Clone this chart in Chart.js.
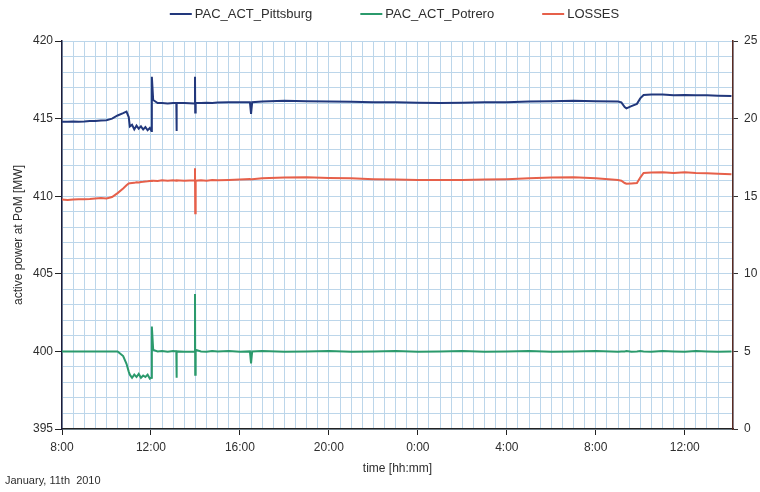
<!DOCTYPE html>
<html>
<head>
<meta charset="utf-8">
<script src="https://cdn.jsdelivr.net/npm/chart.js@4.4.1/dist/chart.umd.min.js"></script>
<style>
  html, body { margin: 0; padding: 0; background: #fff; }
</style>
</head>
<body>
<canvas id="powerChart" width="760" height="492"></canvas>
<script>
// hours since 0:00 on January 11th (values above 24 are the next day)
const times = [
  8.0, 8.25, 8.5, 8.75, 9.0, 9.25, 9.5, 9.75, 10.0, 10.25, 10.5, 10.75, 10.9,
  11.0, 11.05, 11.15, 11.25, 11.35, 11.45, 11.55, 11.65, 11.75, 11.85, 11.95,
  12.02, 12.04, 12.1, 12.3, 12.5, 12.75, 13.0, 13.14, 13.15, 13.16, 13.5,
  13.96, 13.98, 13.99, 14.01, 14.25, 14.5, 14.75, 15.0, 15.5, 16.0, 16.45,
  16.5, 16.55, 17, 18, 19, 20, 21, 22, 23, 24, 25, 26, 27, 28, 29, 30, 31,
  32, 33, 33.15, 33.3, 33.38, 33.6, 33.85, 34.0, 34.15, 34.5, 35.0, 35.5,
  36.0, 36.5, 37.0, 37.5, 38.1
];

// left axis [MW]
const pittsburg = [
  414.80, 414.80, 414.82, 414.80, 414.82, 414.85, 414.85, 414.88, 414.90, 415.00, 415.20, 415.35, 415.45,
  415.10, 414.50, 414.60, 414.30, 414.55, 414.35, 414.50, 414.30, 414.45, 414.25, 414.40,
  414.20, 417.70, 416.20, 416.00, 416.00, 415.98, 416.00, 416.00, 414.20, 416.00, 416.00,
  415.98, 417.70, 415.40, 416.00, 416.00, 416.02, 416.00, 416.03, 416.05, 416.05, 416.05,
  415.30, 416.05, 416.10, 416.15, 416.12, 416.10, 416.08, 416.05, 416.05, 416.02, 416.00, 416.02, 416.05, 416.05, 416.10, 416.12, 416.15,
  416.12, 416.10, 416.05, 415.75, 415.66, 415.80, 415.95, 416.30, 416.52, 416.55, 416.55, 416.50,
  416.52, 416.50, 416.50, 416.48, 416.45
];

// left axis [MW]
const potrero = [
  400.00, 400.00, 400.00, 400.00, 400.00, 400.00, 400.00, 400.00, 400.00, 400.00, 400.00, 399.70, 399.20,
  398.70, 398.50, 398.30, 398.50, 398.35, 398.55, 398.30, 398.45, 398.35, 398.50, 398.25,
  398.30, 401.60, 400.10, 400.00, 400.02, 399.98, 400.02, 400.00, 398.30, 400.00, 399.98,
  400.00, 403.70, 398.50, 400.10, 400.00, 399.98, 400.02, 400.00, 400.02, 399.98, 400.00,
  399.23, 400.00, 400.02, 399.98, 400.00, 400.02, 399.98, 400.00, 400.02, 399.98, 400.00, 400.02, 399.98, 400.00, 400.02, 399.98, 400.00,
  400.02, 399.98, 400.00, 400.00, 400.02, 399.98, 400.00, 400.02, 400.00, 399.98, 400.02, 400.00,
  399.98, 400.02, 400.00, 399.98, 400.00
];

// right axis [MW]
const losses = [
  14.78, 14.76, 14.78, 14.80, 14.80, 14.82, 14.85, 14.88, 14.85, 14.95, 15.20, 15.50, 15.70,
  15.82, 15.83, 15.85, 15.86, 15.90, 15.88, 15.92, 15.93, 15.95, 15.96, 15.98,
  15.98, 16.00, 16.00, 15.98, 16.02, 16.00, 16.03, 16.00, 16.00, 16.02, 16.00,
  16.02, 16.80, 13.90, 16.00, 16.03, 16.00, 16.05, 16.03, 16.05, 16.08, 16.10,
  16.08, 16.10, 16.15, 16.20, 16.22, 16.18, 16.15, 16.10, 16.08, 16.05, 16.05, 16.05, 16.08, 16.10, 16.15, 16.20, 16.22,
  16.15, 16.05, 16.00, 15.85, 15.80, 15.82, 15.85, 16.20, 16.50, 16.52, 16.55, 16.50,
  16.55, 16.50, 16.48, 16.45, 16.42
];

const xMin = 8, xMax = 38.17;
const gridBlue = '#bcd6ea';
const textColor = '#2e2e2e';

function pts(values) {
  return times.map((t, i) => ({ x: t, y: values[i] }));
}

function majorLabel(step) {
  return function (v) {
    const r = Math.round(v);
    if (Math.abs(v - r) > 1e-6 || r % step !== 0) return '';
    return r;
  };
}

// legend at the top and the date note, drawn on the canvas
const notes = {
  id: 'notes',
  afterDraw(chart) {
    const ctx = chart.ctx;
    const area = chart.chartArea;
    ctx.save();
    ctx.font = '13px "Liberation Sans", Arial, sans-serif';
    ctx.textBaseline = 'middle';
    const sets = chart.data.datasets;
    const lineW = 22, gap = 3, spacing = 48;
    const widths = sets.map(d => lineW + gap + ctx.measureText(d.label).width);
    const total = widths.reduce((a, b) => a + b, 0) + spacing * (sets.length - 1);
    let x = (area.left + area.right) / 2 - total / 2 - 3;
    const y = 14;
    sets.forEach((d, i) => {
      ctx.strokeStyle = d.borderColor;
      ctx.lineWidth = 2;
      ctx.beginPath();
      ctx.moveTo(x, y);
      ctx.lineTo(x + lineW, y);
      ctx.stroke();
      ctx.fillStyle = textColor;
      ctx.fillText(d.label, x + lineW + gap, y);
      x += widths[i] + spacing;
    });
    ctx.font = '11px "Liberation Sans", Arial, sans-serif';
    ctx.fillText('January, 11th  2010', 5, 481);
    ctx.restore();
  }
};

Chart.defaults.font.family = '"Liberation Sans", Arial, sans-serif';
Chart.defaults.font.size = 12;
Chart.defaults.color = textColor;

const ctx = document.getElementById('powerChart').getContext('2d');
const powerChart = new Chart(ctx, {
  type: 'line',
  data: {
    datasets: [
      { label: 'PAC_ACT_Pittsburg', data: pts(pittsburg), yAxisID: 'y',
        borderColor: '#22387c', borderWidth: 2, pointRadius: 0, tension: 0 },
      { label: 'PAC_ACT_Potrero', data: pts(potrero), yAxisID: 'y',
        borderColor: '#2b9a6c', borderWidth: 2, pointRadius: 0, tension: 0 },
      { label: 'LOSSES', data: pts(losses), yAxisID: 'y1',
        borderColor: '#e6604a', borderWidth: 2, pointRadius: 0, tension: 0 }
    ]
  },
  options: {
    responsive: false,
    animation: false,
    devicePixelRatio: 1,
    layout: { padding: { top: 41, bottom: 14, left: 0, right: 0 } },
    plugins: {
      legend: { display: false },
      tooltip: { enabled: false }
    },
    scales: {
      x: {
        type: 'linear',
        min: xMin,
        max: xMax,
        ticks: {
          stepSize: 0.5,
          autoSkip: false,
          maxRotation: 0,
          padding: 5,
          callback: function (v) {
            const r = Math.round(v);
            if (Math.abs(v - r) > 1e-6 || r % 4 !== 0) return '';
            return (r % 24) + ':00';
          }
        },
        grid: {
          color: gridBlue,
          tickLength: 6,
          tickColor: c => (c.tick && Math.abs(c.tick.value % 4) < 1e-6) ? '#222' : 'rgba(0,0,0,0)'
        },
        border: { color: '#222', width: 1.5 },
        title: { display: true, text: 'time [hh:mm]', padding: { top: 5, bottom: 2 } },
        afterFit: s => { s.height = 49; }
      },
      y: {
        position: 'left',
        min: 395,
        max: 420,
        ticks: { stepSize: 1, autoSkip: false, padding: 2, callback: majorLabel(5) },
        grid: {
          color: gridBlue,
          tickLength: 7,
          tickColor: c => (c.tick && c.tick.value % 5 === 0) ? '#222' : 'rgba(0,0,0,0)'
        },
        border: { color: '#1c1c3a', width: 1.5 },
        title: { display: true, text: 'active power at PoM [MW]', padding: { top: 11, bottom: 0 } },
        afterFit: s => { s.width = 62; }
      },
      y1: {
        position: 'right',
        min: 0,
        max: 25,
        ticks: { stepSize: 1, autoSkip: false, padding: 6, callback: majorLabel(5) },
        grid: {
          drawOnChartArea: false,
          tickLength: 5,
          tickColor: c => (c.tick && c.tick.value % 5 === 0) ? '#333' : 'rgba(0,0,0,0)'
        },
        border: { color: '#5a2b22', width: 1.5 },
        afterFit: s => { s.width = 27; }
      }
    }
  },
  plugins: [notes]
});
</script>
</body>
</html>
